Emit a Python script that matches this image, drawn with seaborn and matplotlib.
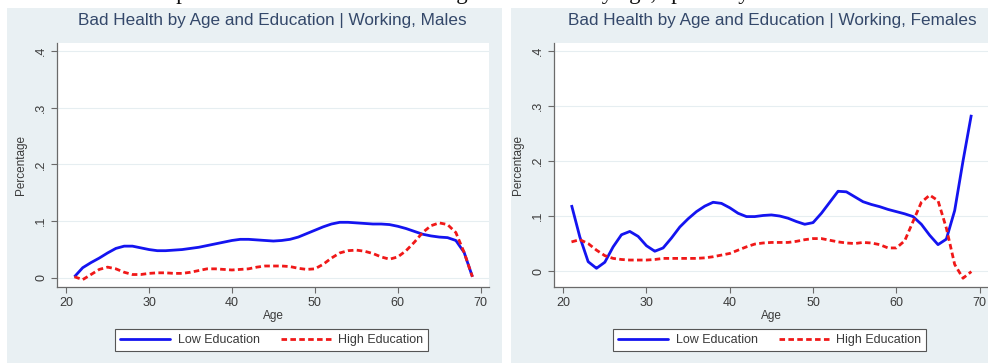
import matplotlib
matplotlib.use("Agg")
import matplotlib.pyplot as plt
from matplotlib.patches import Rectangle
import seaborn as sns
import pandas as pd

# Age grid shared by every series
ages = list(range(21, 70))

# Share in bad health, working males
male_low = [0.002, 0.018, 0.027, 0.035, 0.044, 0.052, 0.056, 0.056, 0.053, 0.050,
            0.048, 0.048, 0.049, 0.050, 0.052, 0.054, 0.057, 0.060, 0.063, 0.066,
            0.068, 0.068, 0.067, 0.066, 0.065, 0.066, 0.068, 0.072, 0.078, 0.084,
            0.090, 0.095, 0.098, 0.098, 0.097, 0.096, 0.095, 0.095, 0.094, 0.091,
            0.087, 0.082, 0.077, 0.074, 0.072, 0.071, 0.066, 0.045, 0.002]
male_high = [0.002, -0.003, 0.006, 0.015, 0.019, 0.016, 0.010, 0.006, 0.006, 0.008,
             0.009, 0.009, 0.008, 0.008, 0.010, 0.013, 0.016, 0.016, 0.015, 0.014,
             0.015, 0.016, 0.019, 0.021, 0.021, 0.021, 0.020, 0.017, 0.015, 0.016,
             0.024, 0.035, 0.044, 0.048, 0.049, 0.047, 0.043, 0.037, 0.033, 0.037,
             0.048, 0.063, 0.080, 0.092, 0.097, 0.094, 0.080, 0.045, 0.002]

# Share in bad health, working females
female_low = [0.120, 0.062, 0.017, 0.005, 0.016, 0.044, 0.066, 0.072, 0.063, 0.046,
              0.036, 0.042, 0.060, 0.080, 0.095, 0.108, 0.118, 0.125, 0.123, 0.115,
              0.105, 0.099, 0.099, 0.101, 0.102, 0.100, 0.096, 0.090, 0.085, 0.088,
              0.105, 0.125, 0.145, 0.144, 0.135, 0.126, 0.121, 0.117, 0.112, 0.108,
              0.104, 0.099, 0.085, 0.065, 0.048, 0.058, 0.110, 0.200, 0.284]
female_high = [0.053, 0.057, 0.050, 0.038, 0.028, 0.023, 0.021, 0.020, 0.020, 0.020,
               0.021, 0.023, 0.023, 0.023, 0.023, 0.023, 0.024, 0.026, 0.029, 0.032,
               0.038, 0.044, 0.049, 0.051, 0.052, 0.052, 0.052, 0.054, 0.057, 0.059,
               0.059, 0.056, 0.053, 0.051, 0.050, 0.052, 0.051, 0.048, 0.042, 0.042,
               0.055, 0.090, 0.125, 0.138, 0.128, 0.078, 0.012, -0.013, -0.001]

panel_titles = ["Bad Health by Age and Education | Working, Males",
                "Bad Health by Age and Education | Working, Females"]
series_names = ["Low Education", "High Education"]
x_ticks = [20, 30, 40, 50, 60, 70]
y_ticks = [0.0, 0.1, 0.2, 0.3, 0.4]
y_tick_labels = ["0", ".1", ".2", ".3", ".4"]
caption = "Graph 3: Bad health of the working labour force by age, speciality"

sns.set_theme(style="white")
plt.rcParams["font.family"] = ["Liberation Sans", "DejaVu Sans"]

BG = "#E9F0F3"
TITLE_C = "#34486A"
TEXT_C = "#3a3a3a"
BLUE = "#1414F0"
RED = "#F01818"
DASH = (2.0, 1.2)

fig = plt.figure(figsize=(9.88, 3.63), dpi=100)
W, H = 988, 363


def px_box(x0, y0, x1, y1):
    """Convert a pixel box (top-left origin) to figure fractions."""
    return [x0 / W, 1 - y1 / H, (x1 - x0) / W, (y1 - y0) / H]


# Light panel backgrounds behind each graph
for (x0, x1) in [(7, 502), (511, 988)]:
    b = px_box(x0, 8, x1, 363)
    fig.add_artist(Rectangle((b[0], b[1]), b[2], b[3], transform=fig.transFigure,
                             facecolor=BG, edgecolor="none", zorder=0))

# Caption line running above the graphs (only its lower edge falls inside the canvas)
fig.text(142 / W, 1 + 0.5 / H, caption, family=["Liberation Serif", "DejaVu Serif"],
         fontsize=16.5, color="#111111", ha="left", va="baseline")

panels = [
    dict(box=(57, 43, 489, 287), low=male_low, high=male_high,
         xlim=(18.9, 71.0), ylim=(-0.016, 0.414), title_x=272),
    dict(box=(554, 43, 988, 287), low=female_low, high=female_high,
         xlim=(18.9, 71.0), ylim=(-0.029, 0.4145), title_x=772),
]

for p, title in zip(panels, panel_titles):
    ax = fig.add_axes(px_box(*p["box"]))
    ax.set_facecolor("white")
    df = pd.DataFrame({
        "Age": ages * 2,
        "Percentage": p["low"] + p["high"],
        "Education": [series_names[0]] * len(ages) + [series_names[1]] * len(ages),
    })
    sns.lineplot(data=df, x="Age", y="Percentage", hue="Education", style="Education",
                 palette=[BLUE, RED], dashes=[(1, 0), DASH], linewidth=2.0,
                 ax=ax, legend=False)

    ax.set_xlim(*p["xlim"])
    ax.set_ylim(*p["ylim"])
    ax.set_xticks(x_ticks)
    ax.set_xticklabels([str(t) for t in x_ticks], fontsize=9, color=TEXT_C)
    ax.set_yticks(y_ticks)
    ax.set_yticklabels(y_tick_labels, fontsize=9, color=TEXT_C, rotation=90, va="center")
    ax.grid(axis="y", color="#E6EEF1", linewidth=0.8)
    ax.grid(axis="x", visible=False)
    for side in ["top", "right"]:
        ax.spines[side].set_visible(False)
    for side in ["left", "bottom"]:
        ax.spines[side].set_color("#6a6a6a")
        ax.spines[side].set_linewidth(0.9)
    ax.tick_params(axis="both", direction="out", length=4, width=0.8, color="#6a6a6a",
                   left=True, bottom=True, pad=3)
    ax.set_xlabel("Age", fontsize=8.5, color=TEXT_C, labelpad=1)
    ax.set_ylabel("Percentage", fontsize=8.5, color=TEXT_C, labelpad=6)

    fig.text(p["title_x"] / W, 1 - 21 / H, title, fontsize=12.3, color=TITLE_C,
             ha="center", va="center")

    handles = [plt.Line2D([], [], color=BLUE, lw=2.0),
               plt.Line2D([], [], color=RED, lw=2.0, linestyle=(0, DASH))]
    leg = ax.legend(handles, series_names, loc="center", bbox_to_anchor=(0.497, -0.219),
                    ncol=2, fontsize=9, frameon=True, fancybox=False, shadow=False,
                    edgecolor="#555555", facecolor="white", framealpha=1,
                    handlelength=4.0, columnspacing=1.7, borderpad=0.4,
                    handletextpad=0.6)
    leg.get_frame().set_linewidth(0.8)
    for t in leg.get_texts():
        t.set_color(TEXT_C)

fig.savefig("out.png", dpi=100)
